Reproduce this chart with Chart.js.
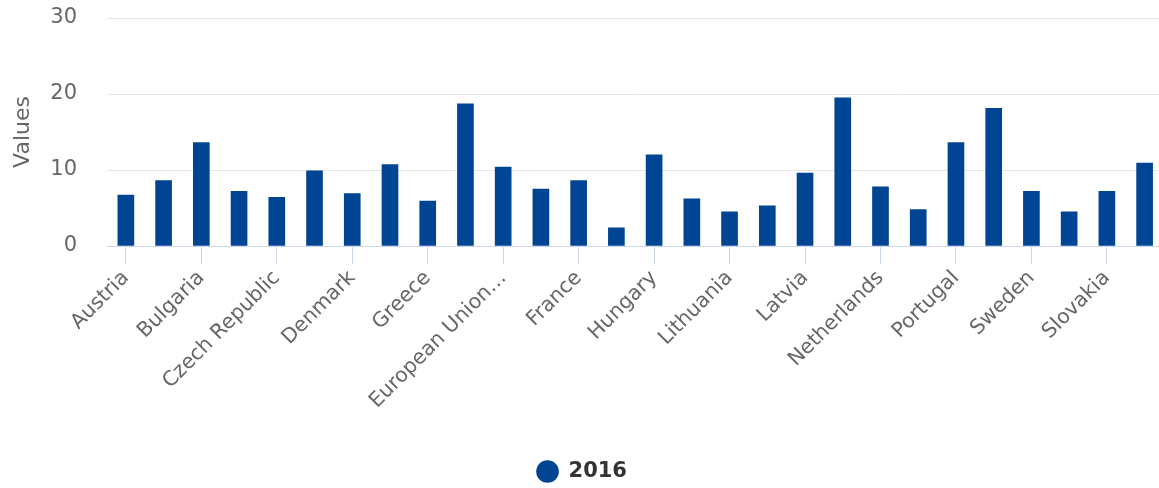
<!DOCTYPE html>
<html>
<head>
<meta charset="utf-8">
<script src="https://cdn.jsdelivr.net/npm/chart.js@4.4.1/dist/chart.umd.min.js"></script>
<style>
  html, body { margin: 0; padding: 0; background: #fff; overflow: hidden; }
  canvas { display: block; }
</style>
</head>
<body>
<canvas id="barChart" width="1164" height="488"></canvas>
<script>
// Countries (only every other one gets a visible label, like the original)
const categories = [
    "Austria", "Belgium", "Bulgaria", "Cyprus", "Czech Republic", "Germany",
    "Denmark", "Estonia", "Greece", "Spain", "European Union (28 countries)",
    "Finland", "France", "Croatia", "Hungary", "Ireland", "Lithuania",
    "Luxembourg", "Latvia", "Malta", "Netherlands", "Poland", "Portugal",
    "Romania", "Sweden", "Slovenia", "Slovakia", "United Kingdom"
];

const values2016 = [
    6.7, 8.6, 13.6, 7.2, 6.4, 9.9, 6.9, 10.7, 5.9, 18.7, 10.4,
    7.5, 8.6, 2.4, 12.0, 6.2, 4.5, 5.3, 9.6, 19.5, 7.8,
    4.8, 13.6, 18.1, 7.2, 4.5, 7.2, 10.9
];

const seriesName = "2016";
const yTicks = [0, 10, 20, 30];

const fontFamily = "'DejaVu Sans', sans-serif";
const textColor = "#666666";
const barColor = "#004494";
const axisColor = "#ccd6eb";

/**
 * Cut long labels the way the original does
 *
 * @param {string} label The category name
 */
function shortLabel(label) {
    if (label.length > 16)
        return label.slice(0, 14) + "\u2026";
    return label;
}

const ctx = document.getElementById("barChart").getContext("2d");

new Chart(ctx, {
    type: "bar",
    data: {
        labels: categories,
        datasets: [{
            label: seriesName,
            data: values2016,
            backgroundColor: barColor,
            borderWidth: 0,
            barThickness: 16
        }]
    },
    options: {
        responsive: false,
        animation: false,
        layout: {
            padding: { top: 0, left: 0, right: 0, bottom: -4 }
        },
        scales: {
            x: {
                ticks: {
                    autoSkip: false,
                    minRotation: 45,
                    maxRotation: 45,
                    color: textColor,
                    padding: 2,
                    font: { family: fontFamily, size: 20.5 },
                    callback: function (value, index) {
                        if (index % 2 !== 0)
                            return "";
                        return shortLabel(this.getLabelForValue(value));
                    }
                },
                grid: {
                    display: true,
                    drawOnChartArea: false,
                    offset: false,
                    tickLength: 18,
                    color: (c) => (c.index % 2 === 0 ? axisColor : "rgba(0,0,0,0)")
                },
                border: { color: axisColor, width: 1 },
                afterFit: (scale) => { scale.height = 209; }
            },
            y: {
                min: 0,
                max: 30,
                afterBuildTicks: (scale) => {
                    scale.ticks = yTicks.map(v => ({ value: v }));
                },
                ticks: {
                    color: textColor,
                    padding: 30,
                    font: { family: fontFamily, size: 21 }
                },
                title: {
                    display: true,
                    text: "Values",
                    color: textColor,
                    padding: { top: 10, bottom: 0 },
                    font: { family: fontFamily, size: 22 }
                },
                grid: {
                    color: "#e6e6e6",
                    drawTicks: false
                },
                border: { display: false },
                afterFit: (scale) => {
                    scale.width = 107;
                    scale.paddingTop = 18;
                    scale.paddingBottom = 0;
                }
            }
        },
        plugins: {
            legend: {
                position: "bottom",
                labels: {
                    usePointStyle: true,
                    pointStyle: "circle",
                    boxHeight: 16,
                    color: "#333333",
                    padding: 6,
                    font: { family: fontFamily, size: 21, weight: "bold" }
                }
            },
            tooltip: { enabled: false }
        }
    }
});
</script>
</body>
</html>
